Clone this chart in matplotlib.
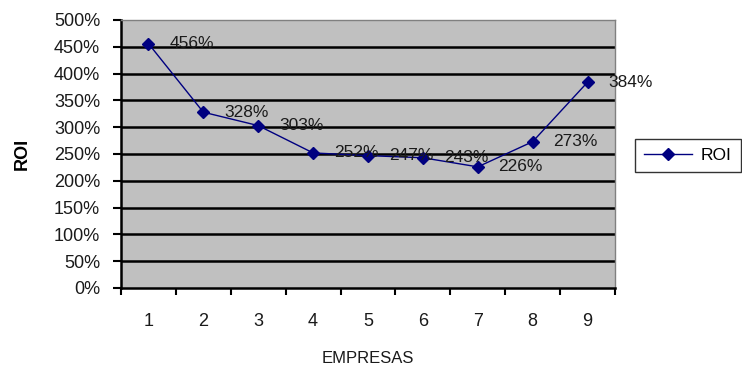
import matplotlib
matplotlib.use("Agg")
import matplotlib.pyplot as plt
from matplotlib.ticker import FixedLocator

plt.rcParams['font.family'] = ['Liberation Sans', 'DejaVu Sans']

empresas = [1, 2, 3, 4, 5, 6, 7, 8, 9]
roi = [456, 328, 303, 252, 247, 243, 226, 273, 384]
labels = ["456%", "328%", "303%", "252%", "247%", "243%", "226%", "273%", "384%"]
yticks = [0, 50, 100, 150, 200, 250, 300, 350, 400, 450, 500]

fig = plt.figure(figsize=(7.42, 3.65), dpi=100)
ax = fig.add_axes([121/742, 1-288/365, (615-121)/742, (288-20)/365])
ax.set_facecolor('#c0c0c0')

for y in yticks[1:-1]:
    ax.axhline(y, color='black', lw=1.8, zorder=1)

ax.plot(empresas, roi, color='#000080', lw=1, marker='D', markersize=6,
        markerfacecolor='#000080', markeredgecolor='#000080', label='ROI', zorder=3)

for x, y, t in zip(empresas, roi, labels):
    ax.annotate(t, (x, y), xytext=(15, 0), textcoords='offset points',
                va='center', ha='left', fontsize=12.5, color='#1a1a1a', zorder=4)

ax.set_xlim(0.5, 9.5)
ax.set_ylim(0, 500)
ax.set_yticks(yticks)
ax.set_yticklabels([f"{v}%" for v in yticks], fontsize=13, color='#1a1a1a')
ax.xaxis.set_major_locator(FixedLocator(empresas))
ax.set_xticklabels([str(e) for e in empresas], fontsize=13, color='#1a1a1a')
ax.xaxis.set_minor_locator(FixedLocator([e + 0.5 for e in [0] + empresas]))
ax.tick_params(axis='x', which='major', length=0, pad=18)
ax.tick_params(axis='x', which='minor', length=5, width=1.5, direction='out')
ax.tick_params(axis='y', length=6, width=1.5, direction='out', pad=9)

for s in ['left', 'bottom']:
    ax.spines[s].set_color('black')
    ax.spines[s].set_linewidth(1.8)
for s in ['top', 'right']:
    ax.spines[s].set_color('#808080')
    ax.spines[s].set_linewidth(1)

ax.set_xlabel('EMPRESAS', fontsize=12, labelpad=15, color='#1a1a1a')
ax.set_ylabel('ROI', fontsize=13, fontweight='bold', labelpad=17)

leg = ax.legend(loc='center left', bbox_to_anchor=((635-121)/494, 0.494), frameon=True,
                fancybox=False, fontsize=12.5, handlelength=2.8, borderpad=0.5,
                handletextpad=0.5, borderaxespad=0)
leg.get_frame().set_edgecolor('black')
leg.get_frame().set_linewidth(1)

fig.savefig('out.png', dpi=100)
